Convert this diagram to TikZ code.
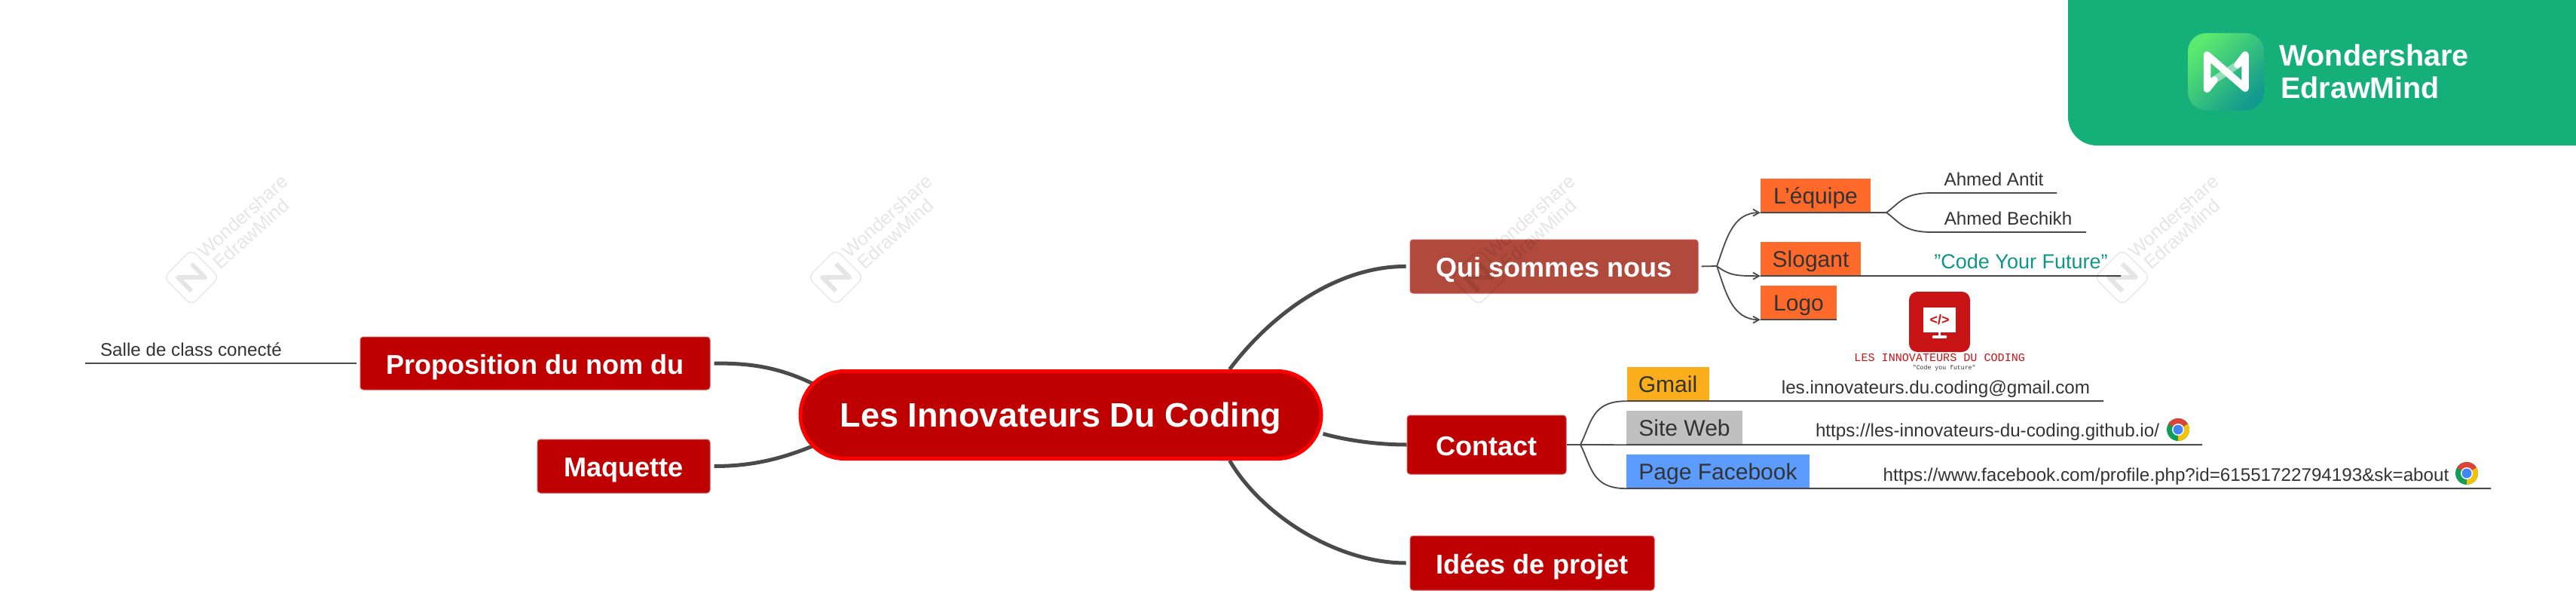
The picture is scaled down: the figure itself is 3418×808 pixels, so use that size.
\documentclass[tikz,border=0pt]{standalone}
\usepackage{fontspec}
\setmainfont{Liberation Sans}
\newfontfamily\logofont{Liberation Mono}
\usetikzlibrary{arrows.meta,backgrounds}
\definecolor{topicred}{HTML}{BE0000}
\definecolor{topicedge}{HTML}{D2504F}
\definecolor{quibrown}{HTML}{AF4A3C}
\definecolor{linegray}{HTML}{4A4A4A}
\definecolor{orangebox}{HTML}{FF6A2B}
\definecolor{yellowbox}{HTML}{FBAE1C}
\definecolor{graybox}{HTML}{C0C0C0}
\definecolor{bluebox}{HTML}{5C9CFF}
\definecolor{slogancol}{HTML}{0E9488}
\definecolor{logored}{HTML}{C81414}
\definecolor{bannergreen}{HTML}{15AF7A}
\definecolor{iconlight}{HTML}{5BE96F}
\definecolor{icondark}{HTML}{129A8E}
\definecolor{chromered}{HTML}{DB4437}
\definecolor{chromeyellow}{HTML}{F4C20D}
\definecolor{chromegreen}{HTML}{0F9D58}
\definecolor{chromeblue}{HTML}{4285F4}
\tikzset{
  mainbox/.style={draw=topicedge,line width=1pt,fill=topicred,rounded corners=4pt,text=white,inner sep=0pt,
    text height=28pt,text depth=0pt,font=\fontsize{36.1}{40}\selectfont\bfseries},
  subbox/.style={fill=orangebox,text=black!80,inner sep=0pt,minimum height=45pt,
    text height=21pt,text depth=0pt,font=\fontsize{30}{34}\selectfont},
  leaftext/.style={text=black!80,inner sep=0pt,text height=17.5pt,text depth=0pt,font=\fontsize{24.2}{28}\selectfont},
  thickline/.style={draw=linegray,line width=5pt},
  forkline/.style={draw=linegray,line width=1.8pt},
  leafline/.style={draw=linegray,line width=2pt},
  chromeicon/.pic={
    \fill[chromegreen] (0,0) circle[radius=15pt];
    \fill[chromered] (0,0) -- (150:15pt) arc[start angle=150,end angle=30,radius=15pt] -- cycle;
    \fill[chromeyellow] (0,0) -- (30:15pt) arc[start angle=30,end angle=-90,radius=15pt] -- cycle;
    \fill[white] (0,0) circle[radius=8pt];
    \fill[chromeblue] (0,0) circle[radius=6.5pt];
  },
  watermark/.pic={
    \begin{scope}[opacity=.1]
    \draw[black,line width=1.3pt,rounded corners=9pt] (0,-37)--(37,0)--(0,37)--(-37,0)--cycle;
    \draw[black,line width=6pt,line join=round] (0,18)--(-18,0)--(18,0)--(0,-18);
    \node[rotate=42,inner sep=0pt,text=black,font=\fontsize{25}{28}\selectfont] (wondertext) at (68,-81) {Wondershare};
    \node[rotate=42,inner sep=0pt,text=black,font=\fontsize{25}{28}\selectfont] (edrawtext) at (79,-58) {EdrawMind};
    \end{scope}
  }
}
\begin{document}
\begin{tikzpicture}[x=1pt,y=-1pt,>={Straight Barb[length=8pt,width=9pt]}]
\useasboundingbox (0,0) rectangle (3418,808);
% banner
\fill[bannergreen] (2744,0) [rounded corners=38pt] -- (2744,193) [sharp corners] -- (3418,193) -- (3418,0) -- cycle;
\node[rounded corners=24pt,top color=iconlight,bottom color=icondark,shading angle=45,minimum width=101pt,minimum height=102pt,inner sep=0pt] (bannericon) at (2953.5,95) {};
\draw[white,opacity=.45,line width=9.5pt] (2938,106)--(2969,86);
\draw[white,line width=9.5pt,line cap=round,line join=round] (2938,106)--(2928.5,118)--(2928.5,73)--(2979,117)--(2979,73)--(2969,86);
\node[anchor=west,inner sep=0pt,text=white,font=\fontsize{39.5}{44}\selectfont\bfseries] (bannerone) at (3024,73.5) {Wondershare};
\node[anchor=west,inner sep=0pt,text=white,font=\fontsize{39.5}{44}\selectfont\bfseries] (bannertwo) at (3026,116.5) {EdrawMind};
% topics
\node[draw=red,line width=5pt,fill=topicred,rounded corners=58pt,text=white,inner sep=0pt,minimum width=691pt,minimum height=116pt,
  text height=32pt,text depth=0pt,font=\fontsize{45}{50}\selectfont\bfseries] (central) at (1407.5,550.5) {Les Innovateurs Du Coding};
\node[mainbox,fill=quibrown,minimum width=382pt,minimum height=71pt] (qui) at (2062,353.5) {Qui sommes nous};
\node[mainbox,minimum width=211pt,minimum height=78pt] (contact) at (1972.5,590) {Contact};
\node[mainbox,minimum width=324pt,minimum height=72pt] (idees) at (2033,747) {Idées de projet};
\node[mainbox,minimum width=464pt,minimum height=70pt] (prop) at (710,482) {Proposition du nom du};
\node[mainbox,minimum width=229pt,minimum height=71pt] (maquette) at (827.5,618.5) {Maquette};
\begin{scope}[on background layer]
\draw[thickline,shorten >=5pt] ([xshift=224pt]central.north) .. controls (1688,415) and (1775,353) .. (qui.west);
\draw[thickline] ([yshift=-25pt]central.east) .. controls (1790,585) and (1830,590) .. (contact.west);
\draw[thickline,shorten >=5pt] ([xshift=224pt]central.south) .. controls (1675,685) and (1775,747) .. (idees.west);
\draw[thickline,shorten >=5pt] ([xshift=22pt,yshift=40pt]central.west) .. controls (1030,485) and (990,482) .. (prop.east);
\draw[thickline,shorten >=5pt] ([xshift=22pt,yshift=-40pt]central.west) .. controls (1030,612) and (990,618.5) .. (maquette.east);
\end{scope}
% qui sommes nous
\node[subbox,minimum width=146pt] (equipe) at (2409,259.5) {L'équipe};
\node[subbox,minimum width=133pt] (slogant) at (2402.5,343.5) {Slogant};
\node[subbox,minimum width=101pt] (logo) at (2386.5,401.5) {Logo};
\coordinate (quifork) at (2278,353);
\coordinate (equipefork) at (2503,282);
\coordinate (antitend) at (2729,256);
\coordinate (bechikhend) at (2768,308);
\coordinate (sloganend) at (2814,366);
\draw[forkline,shorten <=4pt] (qui.east) -- (quifork);
\draw[forkline,->] (quifork) .. controls (2290,320) and (2298,282) .. (equipe.south west);
\draw[forkline,->] (quifork) .. controls (2295,366) and (2305,366) .. (slogant.south west);
\draw[forkline,->] (quifork) .. controls (2290,388) and (2298,424) .. (logo.south west);
\draw[leafline] (equipe.south west) -- (equipefork);
\draw[leafline] (slogant.south west) -- (sloganend);
\draw[leafline] (logo.south west) -- (logo.south east);
\draw[forkline] (equipefork) .. controls (2520,270) and (2525,256) .. (2563,256) -- (antitend);
\draw[forkline] (equipefork) .. controls (2520,294) and (2525,308) .. (2563,308) -- (bechikhend);
\node[leaftext] (antit) at (2645.5,238) {Ahmed Antit};
\node[leaftext] (bechikh) at (2664.5,289.5) {Ahmed Bechikh};
\node[leaftext,text=slogancol,text height=19pt,font=\fontsize{27}{30}\selectfont] (sloganleaf) at (2681.5,346.5) {"Code Your Future"};
% logo
\node[fill=logored,rounded corners=11pt,minimum width=81pt,minimum height=80pt,inner sep=0pt] (logosquare) at (2573.5,427) {};
\node[fill=white,text=logored,minimum width=43pt,minimum height=33pt,inner sep=0pt,font=\fontsize{18}{20}\selectfont\bfseries] (logoscreen) at (2573.5,424.5) {</>};
\draw[white,line width=3.5pt] (logoscreen.south) -- ++(0,5);
\draw[white,line width=3.5pt,line cap=round] ([xshift=-8pt,yshift=-6pt]logoscreen.south) -- ([xshift=8pt,yshift=-6pt]logoscreen.south);
\node[inner sep=0pt,text=logored,font=\fontsize{15.1}{17}\logofont] (logoname) at (2573.7,475) {LES INNOVATEURS DU CODING};
\node[inner sep=0pt,text=black!80,font=\fontsize{8.2}{10}\logofont] (logomotto) at (2579.7,488) {"Code you future"};
% contact
\node[subbox,fill=yellowbox,minimum width=109pt] (gmail) at (2213,509.5) {Gmail};
\node[subbox,fill=graybox,minimum width=154pt] (siteweb) at (2235,567.5) {Site Web};
\node[subbox,fill=bluebox,minimum width=243pt] (facebook) at (2279.5,625.5) {Page Facebook};
\coordinate (contactfork) at (2097,590);
\coordinate (gmailend) at (2791,532);
\coordinate (siteend) at (2922,590);
\coordinate (facebookend) at (3305,648);
\draw[forkline] (contact.east) -- (contactfork);
\draw[forkline] (contactfork) .. controls (2112,560) and (2112,532) .. (gmail.south west);
\draw[forkline] (contactfork) -- (siteweb.south west);
\draw[forkline] (contactfork) .. controls (2112,620) and (2112,648) .. (facebook.south west);
\draw[leafline] (gmail.south west) -- (gmailend);
\draw[leafline] (siteweb.south west) -- (siteend);
\draw[leafline] (facebook.south west) -- (facebookend);
\node[leaftext] (gmailleaf) at (2568.5,514) {les.innovateurs.du.coding@gmail.com};
\node[leaftext] (siteleaf) at (2637,571) {https://les-innovateurs-du-coding.github.io/};
\node[leaftext] (facebookleaf) at (2874,630) {https://www.facebook.com/profile.php?id=61551722794193\&sk=about};
\pic at (2890,570) {chromeicon};
\pic at (3273,628) {chromeicon};
% proposition
\coordinate (salleend) at (113,482);
\draw[leafline,shorten <=5pt] (prop.west) -- (salleend);
\node[leaftext] (salle) at (253.5,464) {Salle de class conecté};
% watermarks
\pic (wma) at (254,368) {watermark};
\pic (wmb) at (1109,368) {watermark};
\pic (wmc) at (1962,368) {watermark};
\pic (wmd) at (2816,368) {watermark};
\end{tikzpicture}
\end{document}
